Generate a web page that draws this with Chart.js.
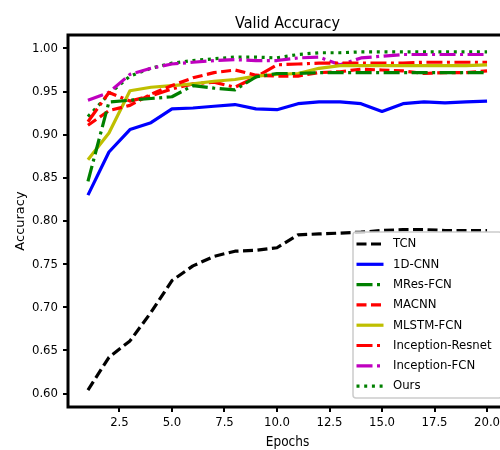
<!DOCTYPE html>
<html>
<head>
<meta charset="utf-8">
<script src="https://cdn.jsdelivr.net/npm/chart.js@4.4.1/dist/chart.umd.min.js"></script>
<style>
  html, body { margin: 0; padding: 0; background: #fff; }
  #wrap { width: 500px; height: 450px; overflow: hidden; position: relative; }
  canvas { display: block; }
</style>
</head>
<body>
<div id="wrap"><canvas id="c" width="520" height="450"></canvas></div>
<script>
// Validation accuracy per epoch for each model
const epochs = [1, 2, 3, 4, 5, 6, 7, 8, 9, 10, 11, 12, 13, 14, 15, 16, 17, 18, 19, 20];

const tcn      = [0.604, 0.642, 0.661, 0.694, 0.731, 0.748, 0.759, 0.765, 0.766, 0.769, 0.784, 0.785, 0.786, 0.787, 0.789, 0.790, 0.790, 0.789, 0.789, 0.789];
const cnn1d    = [0.830, 0.880, 0.906, 0.914, 0.930, 0.931, 0.933, 0.935, 0.930, 0.929, 0.936, 0.938, 0.938, 0.936, 0.927, 0.936, 0.938, 0.937, 0.938, 0.939];
const mresFcn  = [0.846, 0.938, 0.940, 0.942, 0.944, 0.957, 0.954, 0.952, 0.967, 0.971, 0.971, 0.972, 0.972, 0.972, 0.972, 0.972, 0.972, 0.972, 0.972, 0.972];
const macnn    = [0.911, 0.928, 0.934, 0.947, 0.957, 0.966, 0.972, 0.975, 0.969, 0.968, 0.968, 0.972, 0.973, 0.976, 0.975, 0.974, 0.971, 0.972, 0.972, 0.974];
const mlstmFcn = [0.871, 0.902, 0.951, 0.955, 0.957, 0.959, 0.962, 0.964, 0.968, 0.970, 0.971, 0.977, 0.980, 0.980, 0.980, 0.980, 0.980, 0.980, 0.980, 0.981];
const incRes   = [0.915, 0.949, 0.939, 0.945, 0.953, 0.959, 0.961, 0.955, 0.967, 0.981, 0.982, 0.983, 0.983, 0.983, 0.983, 0.983, 0.984, 0.984, 0.984, 0.984];
const incFcn   = [0.940, 0.949, 0.970, 0.977, 0.982, 0.984, 0.986, 0.987, 0.986, 0.986, 0.989, 0.990, 0.981, 0.989, 0.991, 0.993, 0.993, 0.993, 0.993, 0.993];
const ours     = [0.921, 0.947, 0.968, 0.977, 0.983, 0.986, 0.988, 0.990, 0.990, 0.989, 0.993, 0.995, 0.995, 0.996, 0.996, 0.996, 0.996, 0.996, 0.996, 0.996];

const seriesNames = ['TCN', '1D-CNN', 'MRes-FCN', 'MACNN', 'MLSTM-FCN', 'Inception-Resnet', 'Inception-FCN', 'Ours'];
const seriesValues = [tcn, cnn1d, mresFcn, macnn, mlstmFcn, incRes, incFcn, ours];

const xTicks = [2.5, 5.0, 7.5, 10.0, 12.5, 15.0, 17.5, 20.0];
const yTicks = [0.60, 0.65, 0.70, 0.75, 0.80, 0.85, 0.90, 0.95, 1.00];

const chartTitle = 'Valid Accuracy';
const xTitle = 'Epochs';
const yTitle = 'Accuracy';

// line styles (matplotlib-like colour letters and dash patterns)
const DASHED = [10, 4.5];
const DASHDOT = [16, 4.5, 3, 4.5];
const DOTTED = [3, 4.7];
const styles = [
  { color: '#000000', dash: DASHED },
  { color: '#0000ff', dash: [] },
  { color: '#008000', dash: DASHDOT },
  { color: '#ff0000', dash: DASHED },
  { color: '#bfbf00', dash: [] },
  { color: '#ff0000', dash: DASHDOT },
  { color: '#bf00bf', dash: DASHDOT },
  { color: '#008000', dash: DOTTED }
];

const COND = "'DejaVu Sans Condensed', 'DejaVu Sans', sans-serif";
const REG = "'DejaVu Sans', sans-serif";
const LW = 3.2;

const datasets = seriesNames.map((name, i) => ({
  label: name,
  data: epochs.map((e, j) => ({ x: e, y: seriesValues[i][j] })),
  borderColor: styles[i].color,
  backgroundColor: styles[i].color,
  borderDash: styles[i].dash,
  borderWidth: LW,
  borderCapStyle: 'butt',
  borderJoinStyle: 'round',
  pointRadius: 0,
  tension: 0,
  fill: false
}));

// frame, title, axis titles and the boxed legend in the lower right
const decorations = {
  id: 'decorations',
  afterDatasetsDraw(chart) {
    const { ctx, chartArea: a } = chart;
    ctx.save();
    ctx.strokeStyle = '#000';
    ctx.lineWidth = 3;
    ctx.strokeRect(a.left, a.top, a.right - a.left, a.bottom - a.top);
    ctx.restore();
  },
  afterDraw(chart) {
    const { ctx, chartArea: a } = chart;
    ctx.save();
    ctx.fillStyle = '#000';
    // title
    ctx.font = `16px ${COND}`;
    ctx.textAlign = 'center';
    ctx.textBaseline = 'alphabetic';
    ctx.fillText(chartTitle, (a.left + a.right) / 2, 28);
    // x title
    ctx.font = `13.5px ${COND}`;
    ctx.fillText(xTitle, (a.left + a.right) / 2, 446);
    // y title
    ctx.save();
    ctx.translate(21, (a.top + a.bottom) / 2);
    ctx.rotate(-Math.PI / 2);
    ctx.font = `13px ${REG}`;
    ctx.textBaseline = 'middle';
    ctx.fillText(yTitle, 0, 0);
    ctx.restore();

    // legend box
    const bx = 353, by = 232, bw = 149, bh = 166, r = 3;
    ctx.beginPath();
    ctx.moveTo(bx + r, by);
    ctx.lineTo(bx + bw - r, by);
    ctx.arcTo(bx + bw, by, bx + bw, by + r, r);
    ctx.lineTo(bx + bw, by + bh - r);
    ctx.arcTo(bx + bw, by + bh, bx + bw - r, by + bh, r);
    ctx.lineTo(bx + r, by + bh);
    ctx.arcTo(bx, by + bh, bx, by + bh - r, r);
    ctx.lineTo(bx, by + r);
    ctx.arcTo(bx, by, bx + r, by, r);
    ctx.closePath();
    ctx.fillStyle = 'rgba(255,255,255,0.8)';
    ctx.fill();
    ctx.strokeStyle = '#cccccc';
    ctx.lineWidth = 1.5;
    ctx.stroke();

    chart.data.datasets.forEach((ds, i) => {
      const y = 244 + i * 20.3;
      ctx.beginPath();
      ctx.setLineDash(ds.borderDash);
      ctx.lineCap = 'butt';
      ctx.strokeStyle = ds.borderColor;
      ctx.lineWidth = LW;
      ctx.moveTo(356.5, y);
      ctx.lineTo(383.5, y);
      ctx.stroke();
      ctx.setLineDash([]);
      ctx.fillStyle = '#000';
      ctx.font = `13px ${COND}`;
      ctx.textAlign = 'left';
      ctx.textBaseline = 'middle';
      ctx.fillText(ds.label, 393, y);
    });
    ctx.restore();
  }
};

const tickFont = { family: COND, size: 13 };

new Chart(document.getElementById('c'), {
  type: 'line',
  data: { datasets },
  options: {
    responsive: false,
    animation: false,
    devicePixelRatio: 1,
    layout: { padding: { top: 35, right: 13, left: 0, bottom: 0 } },
    plugins: { legend: { display: false }, title: { display: false }, tooltip: { enabled: false } },
    scales: {
      x: {
        type: 'linear',
        min: 0.05,
        max: 20.95,
        afterBuildTicks: (s) => { s.ticks = xTicks.map(v => ({ value: v })); },
        afterFit: (s) => { s.height = 43; },
        ticks: { font: tickFont, color: '#000', padding: 3, maxRotation: 0, autoSkip: false,
                 callback: (v) => Number(v).toFixed(1) },
        grid: { drawOnChartArea: false, drawTicks: true, tickLength: 5, color: '#000', lineWidth: 2 },
        border: { display: false }
      },
      y: {
        type: 'linear',
        min: 0.5844,
        max: 1.0156,
        afterBuildTicks: (s) => { s.ticks = yTicks.map(v => ({ value: v })); },
        afterFit: (s) => { s.width = 68; },
        ticks: { font: tickFont, color: '#000', padding: 5, autoSkip: false,
                 callback: (v) => Number(v).toFixed(2) },
        grid: { drawOnChartArea: false, drawTicks: true, tickLength: 5, color: '#000', lineWidth: 2 },
        border: { display: false }
      }
    }
  },
  plugins: [decorations]
});
</script>
</body>
</html>
